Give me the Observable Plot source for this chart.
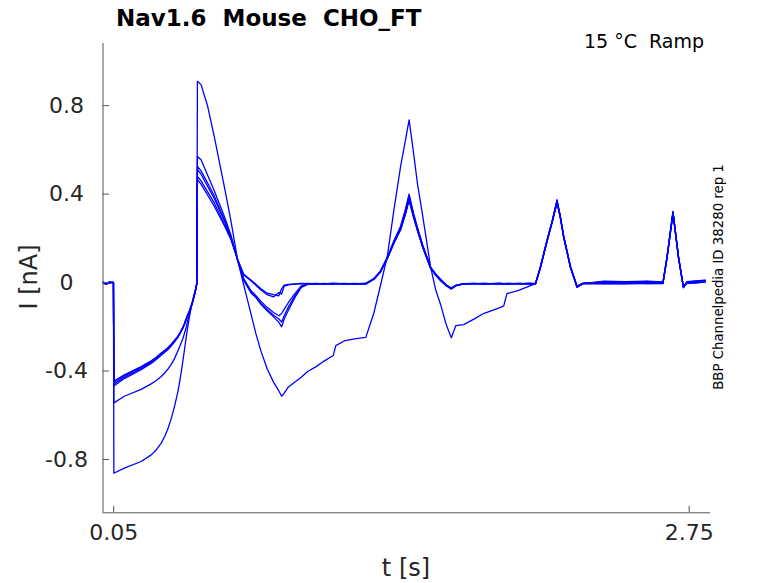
<!DOCTYPE html>
<html>
<head>
<meta charset="utf-8">
<script src="https://cdn.jsdelivr.net/npm/d3@7"></script>
<script src="https://cdn.jsdelivr.net/npm/@observablehq/plot@0.6"></script>
<style>
  html, body { margin: 0; padding: 0; background: #fff; }
  #wrap { position: relative; width: 778px; height: 583px; overflow: hidden; }
  #wrap svg { position: absolute; left: 0; top: 0; }
  #overlay { pointer-events: none; }
</style>
</head>
<body>
<div id="wrap"></div>
<script>
// ---- data ----
const title = "Nav1.6  Mouse  CHO_FT";
const annotation = "15 °C  Ramp";
const sideNote = "BBP Channelpedia ID 38280 rep 1";
const xLabel = "t [s]";
const yLabel = "I [nA]";
const xDomain = [0, 2.85];
const yDomain = [-1.041, 1.081];
const xTicks = [0.05, 2.75];
const yTicks = [-0.8, -0.4, 0, 0.4, 0.8];

const time = [
  0.000, 0.015, 0.030, 0.049,
  0.051, 0.100, 0.179, 0.226, 0.250, 0.273, 0.290, 0.304, 0.320, 0.335, 0.351, 0.362, 0.374, 0.382, 0.390, 0.397, 0.405, 0.413, 0.421, 0.427, 0.433, 0.440,
  0.443, 0.460, 0.491, 0.522, 0.569, 0.600, 0.632,
  0.660, 0.694, 0.717, 0.741, 0.770, 0.800, 0.825, 0.838, 0.850, 0.870, 0.900, 0.930, 0.960,
  1.000, 1.037, 1.080, 1.092, 1.131, 1.180, 1.233,
  1.270, 1.300, 1.334, 1.365, 1.396, 1.420, 1.436, 1.455, 1.475, 1.500, 1.537, 1.560, 1.584, 1.610, 1.634, 1.655,
  1.692, 1.740, 1.785, 1.865, 1.880, 1.895, 1.950, 2.000, 2.029,
  2.052, 2.083, 2.108, 2.130, 2.145, 2.161, 2.193, 2.224, 2.250,
  2.350, 2.450, 2.550,
  2.627, 2.646, 2.674, 2.700, 2.723, 2.739, 2.780, 2.825
];

const trace1 = [
  0.003, -0.006, 0.002, 0.001,
  -0.445, -0.417, -0.380, -0.354, -0.338, -0.318, -0.306, -0.295, -0.279, -0.262, -0.243, -0.225, -0.203, -0.185, -0.163, -0.146, -0.128, -0.106, -0.083, -0.062, -0.039, -0.004,
  0.465, 0.445, 0.395, 0.345, 0.258, 0.195, 0.102,
  0.038, 0.012, -0.008, -0.028, -0.048, -0.055, -0.060, -0.028, -0.012, -0.008, -0.006, -0.004, -0.005,
  -0.004, -0.006, -0.003, -0.005, -0.004, -0.006, -0.003,
  0.018, 0.050, 0.115, 0.190, 0.255, 0.335, 0.400, 0.320, 0.250, 0.170, 0.070, 0.040, 0.015, -0.010, -0.025, -0.012,
  -0.005, -0.004, -0.006, -0.003, -0.005, -0.004, -0.006, -0.003, -0.004,
  0.070, 0.190, 0.280, 0.370, 0.300, 0.210, 0.070, -0.020, -0.005,
  0.004, -0.003, 0.005,
  0.002, 0.115, 0.320, 0.115, -0.024, 0.002, 0.006, 0.010
];
const trace2 = [
  0.001, -0.004, -0.002, 0.002,
  -0.452, -0.422, -0.384, -0.357, -0.340, -0.321, -0.308, -0.297, -0.281, -0.263, -0.244, -0.226, -0.204, -0.186, -0.165, -0.148, -0.130, -0.108, -0.085, -0.063, -0.040, -0.005,
  0.480, 0.460, 0.410, 0.360, 0.265, 0.200, 0.104,
  0.034, 0.008, -0.012, -0.034, -0.055, -0.065, -0.045, -0.052, -0.016, -0.010, -0.007, -0.006, -0.004,
  -0.006, -0.004, -0.007, -0.005, -0.006, -0.004, -0.006,
  0.016, 0.048, 0.112, 0.185, 0.250, 0.330, 0.395, 0.315, 0.245, 0.165, 0.068, 0.038, 0.012, -0.012, -0.028, -0.014,
  -0.007, -0.005, -0.004, -0.006, -0.005, -0.007, -0.004, -0.006, -0.005,
  0.065, 0.185, 0.275, 0.360, 0.295, 0.205, 0.068, -0.022, -0.006,
  -0.004, 0.003, -0.005,
  -0.003, 0.110, 0.310, 0.110, -0.022, -0.002, 0.004, 0.008
];
const trace3 = [
  -0.002, -0.008, 0.001, -0.001,
  -0.460, -0.428, -0.389, -0.361, -0.344, -0.325, -0.311, -0.300, -0.283, -0.266, -0.247, -0.228, -0.207, -0.188, -0.167, -0.149, -0.131, -0.109, -0.086, -0.064, -0.041, -0.005,
  0.510, 0.490, 0.435, 0.380, 0.280, 0.205, 0.100,
  0.018, -0.036, -0.058, -0.085, -0.112, -0.135, -0.150, -0.140, -0.120, -0.090, -0.050, -0.015, -0.006,
  -0.005, -0.007, -0.004, -0.006, -0.005, -0.007, -0.005,
  0.015, 0.046, 0.110, 0.180, 0.240, 0.315, 0.375, 0.305, 0.240, 0.160, 0.066, 0.036, 0.010, -0.012, -0.026, -0.013,
  -0.006, -0.004, -0.007, -0.005, -0.006, -0.004, -0.005, -0.007, -0.005,
  0.068, 0.188, 0.278, 0.365, 0.298, 0.208, 0.072, -0.018, -0.004,
  -0.006, -0.005, -0.004,
  -0.004, 0.112, 0.315, 0.112, -0.020, -0.004, -0.002, 0.002
];
const trace4 = [
  0.000, -0.003, 0.003, 0.000,
  -0.468, -0.434, -0.394, -0.366, -0.348, -0.329, -0.315, -0.304, -0.287, -0.269, -0.249, -0.230, -0.209, -0.190, -0.169, -0.151, -0.133, -0.110, -0.087, -0.065, -0.042, -0.006,
  0.525, 0.505, 0.450, 0.392, 0.285, 0.210, 0.101,
  0.014, -0.042, -0.064, -0.094, -0.122, -0.148, -0.165, -0.178, -0.150, -0.110, -0.060, -0.020, -0.007,
  -0.006, -0.005, -0.007, -0.004, -0.006, -0.005, -0.006,
  0.014, 0.045, 0.108, 0.178, 0.238, 0.312, 0.372, 0.300, 0.235, 0.158, 0.064, 0.034, 0.008, -0.014, -0.030, -0.015,
  -0.005, -0.006, -0.004, -0.007, -0.005, -0.006, -0.004, -0.005, -0.006,
  0.072, 0.192, 0.282, 0.375, 0.302, 0.212, 0.074, -0.016, -0.003,
  -0.005, -0.006, -0.003,
  -0.005, 0.114, 0.318, 0.114, -0.018, -0.003, 0.000, 0.003
];
const trace5 = [
  0.002, -0.005, 0.000, 0.001,
  -0.544, -0.514, -0.483, -0.458, -0.443, -0.425, -0.408, -0.392, -0.370, -0.345, -0.309, -0.284, -0.255, -0.230, -0.203, -0.175, -0.145, -0.115, -0.085, -0.060, -0.038, -0.005,
  0.570, 0.555, 0.485, 0.415, 0.300, 0.215, 0.098,
  0.010, -0.046, -0.068, -0.098, -0.128, -0.155, -0.180, -0.200, -0.165, -0.125, -0.068, -0.022, -0.008,
  -0.007, -0.005, -0.006, -0.004, -0.007, -0.005, -0.006,
  0.015, 0.047, 0.110, 0.182, 0.245, 0.320, 0.380, 0.308, 0.238, 0.162, 0.066, 0.035, 0.009, -0.013, -0.027, -0.014,
  -0.006, -0.005, -0.006, -0.004, -0.006, -0.005, -0.006, -0.004, -0.006,
  0.070, 0.190, 0.280, 0.368, 0.300, 0.210, 0.070, -0.020, -0.005,
  0.006, 0.004, 0.007,
  0.003, 0.116, 0.322, 0.116, -0.020, 0.004, 0.008, 0.011
];
const trace6 = [
  -0.001, -0.007, 0.002, 0.000,
  -0.862, -0.839, -0.809, -0.779, -0.757, -0.726, -0.695, -0.662, -0.615, -0.562, -0.495, -0.435, -0.360, -0.305, -0.250, -0.205, -0.158, -0.115, -0.080, -0.055, -0.033, -0.005,
  0.910, 0.895, 0.797, 0.660, 0.435, 0.280, 0.100,
  -0.010, -0.140, -0.230, -0.310, -0.390, -0.450, -0.490, -0.514, -0.500, -0.472, -0.450, -0.428, -0.402,
  -0.380, -0.355, -0.330, -0.285, -0.264, -0.255, -0.248,
  -0.140, -0.020, 0.120, 0.330, 0.524, 0.650, 0.736, 0.600, 0.449, 0.300, 0.070, -0.030, -0.100, -0.190, -0.250, -0.195,
  -0.190, -0.165, -0.140, -0.112, -0.105, -0.050, -0.035, -0.016, -0.005,
  0.068, 0.186, 0.276, 0.362, 0.296, 0.206, 0.068, -0.019, -0.004,
  0.001, -0.002, 0.002,
  0.000, 0.113, 0.316, 0.113, -0.021, 0.001, 0.005, 0.009
];

const traces = [trace1, trace2, trace3, trace4, trace5, trace6];
const table = [];
traces.forEach((vals, k) => {
  time.forEach((t, j) => table.push({trace: k + 1, t, v: vals[j]}));
});

const W = 778, H = 583;
const axisColor = "#555555";
const textColor = "#262626";

const chart = Plot.plot({
  width: W,
  height: H,
  marginLeft: 102.5,
  marginRight: 68,
  marginTop: 43,
  marginBottom: 70.7,
  x: {domain: xDomain},
  y: {domain: yDomain},
  style: {fontFamily: "DejaVu Sans", fontSize: "22px", color: textColor, background: "#fff", overflow: "visible"},
  marks: [
    Plot.line(table, {x: "t", y: "v", z: "trace", stroke: "#0000ff", strokeWidth: 1.3, clip: true}),
    Plot.ruleX([xDomain[0]], {stroke: axisColor, strokeWidth: 1}),
    Plot.ruleY([yDomain[0]], {stroke: axisColor, strokeWidth: 1}),
    Plot.axisX({ticks: xTicks, tickSize: -6.5, tickPadding: 18, tickFormat: d => String(d),
      fontSize: 22, label: null, stroke: axisColor, fill: textColor}),
    Plot.axisY({ticks: yTicks, tickSize: -6.5, tickPadding: 43, textAnchor: "middle", tickFormat: d => String(d),
      fontSize: 22, label: null, stroke: axisColor, fill: textColor})
  ]
});

const wrap = document.getElementById("wrap");
wrap.appendChild(chart);

// overlay texts (title, annotation, axis labels, side note)
const ov = d3.create("svg").attr("id", "overlay").attr("width", W).attr("height", H)
  .attr("font-family", "DejaVu Sans");
ov.append("text").attr("x", 116).attr("y", 26).attr("font-size", 23).attr("font-weight", "bold")
  .attr("fill", "#000").style("white-space", "pre").text(title);
ov.append("text").attr("x", 704).attr("y", 48).attr("font-size", 19).attr("text-anchor", "end")
  .attr("fill", "#000").style("white-space", "pre").text(annotation);
ov.append("text").attr("x", 406).attr("y", 576).attr("font-size", 24).attr("text-anchor", "middle")
  .attr("fill", textColor).text(xLabel);
ov.append("text").attr("transform", "translate(37,277) rotate(-90)").attr("font-size", 24)
  .attr("text-anchor", "middle").attr("fill", textColor).text(yLabel);
ov.append("text").attr("transform", "translate(723,277) rotate(-90)").attr("font-size", 13.3)
  .attr("text-anchor", "middle").attr("fill", "#000").text(sideNote);
wrap.appendChild(ov.node());
</script>
</body>
</html>
